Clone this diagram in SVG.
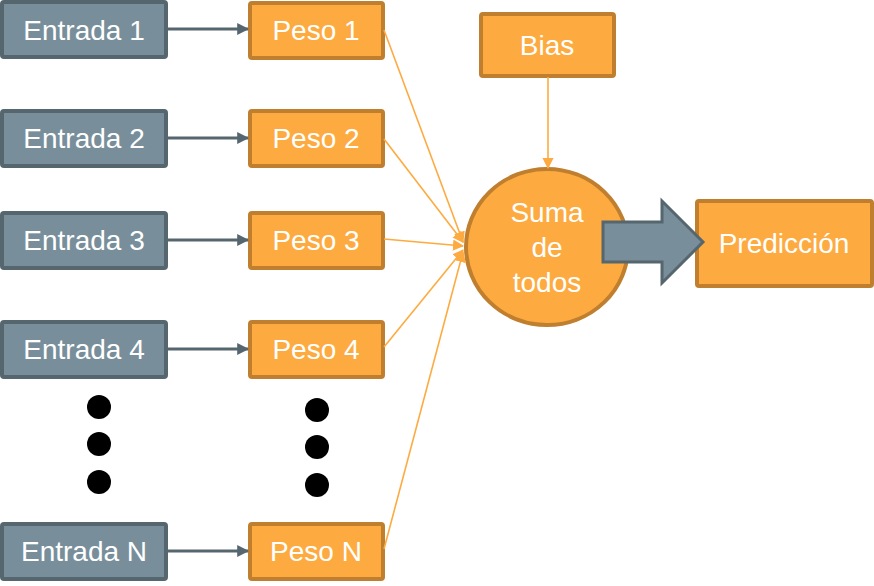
<svg xmlns="http://www.w3.org/2000/svg" width="874" height="586" viewBox="0 0 874 586">
<style>
.in rect{fill:#788f9b;stroke:#56666f;stroke-width:4}
.w rect,.w ellipse{fill:#fdab40;stroke:#c07f2e;stroke-width:4}
text{font-family:"Liberation Sans",Arial,sans-serif;font-size:28px;fill:#fff;text-anchor:middle}
.g{stroke:#56666f;stroke-width:3;fill:none}
.o{stroke:#fdab40;stroke-width:1.6;fill:none}
</style>
<defs>
<marker id="ga" viewBox="0 0 10 10" refX="9" refY="5" markerWidth="4" markerHeight="4" orient="auto" markerUnits="strokeWidth"><path d="M0,0L10,5L0,10z" fill="#56666f"/></marker>
<marker id="oa" viewBox="0 0 10 10" refX="9" refY="5" markerWidth="7" markerHeight="7" orient="auto" markerUnits="strokeWidth"><path d="M0,0L10,5L0,10z" fill="#fdab40"/></marker>
</defs>
<g id="entrada1" class="in"><rect x="2" y="2" width="164" height="55" rx="2"/><text x="84" y="40">Entrada 1</text></g>
<g id="entrada2" class="in"><rect x="2" y="111" width="164" height="55" rx="2"/><text x="84" y="148">Entrada 2</text></g>
<g id="entrada3" class="in"><rect x="2" y="213" width="164" height="55" rx="2"/><text x="84" y="250">Entrada 3</text></g>
<g id="entrada4" class="in"><rect x="2" y="322" width="164" height="55" rx="2"/><text x="84" y="359">Entrada 4</text></g>
<g id="entradaN" class="in"><rect x="2" y="524" width="164" height="55" rx="2"/><text x="84" y="561">Entrada N</text></g>
<g id="peso1" class="w"><rect x="250" y="3" width="133" height="55" rx="2"/><text x="316" y="40">Peso 1</text></g>
<g id="peso2" class="w"><rect x="250" y="111" width="133" height="55" rx="2"/><text x="316" y="148">Peso 2</text></g>
<g id="peso3" class="w"><rect x="250" y="213" width="133" height="55" rx="2"/><text x="316" y="250">Peso 3</text></g>
<g id="peso4" class="w"><rect x="250" y="322" width="133" height="55" rx="2"/><text x="316" y="359">Peso 4</text></g>
<g id="pesoN" class="w"><rect x="250" y="524" width="133" height="55" rx="2"/><text x="316" y="561">Peso N</text></g>
<g id="bias" class="w"><rect x="481" y="14" width="133" height="62" rx="2"/><text x="547" y="55">Bias</text></g>
<g id="suma" class="w"><ellipse cx="547" cy="247" rx="81" ry="78"/><text x="547" y="222">Suma</text><text x="547" y="257">de</text><text x="547" y="292">todos</text></g>
<g id="prediccion" class="w"><rect x="697" y="201" width="175" height="85" rx="2"/><text x="784" y="253">Predicción</text></g>
<g id="dots" fill="#000">
<circle cx="99" cy="407" r="12"/><circle cx="99" cy="444" r="12"/><circle cx="99" cy="482" r="12"/>
<circle cx="317" cy="410" r="12"/><circle cx="317" cy="447" r="12"/><circle cx="317" cy="485" r="12"/>
</g>
<g id="connectors">
<line class="g" x1="167" y1="29" x2="248" y2="29" marker-end="url(#ga)"/>
<line class="g" x1="167" y1="138" x2="248" y2="138" marker-end="url(#ga)"/>
<line class="g" x1="167" y1="240" x2="248" y2="240" marker-end="url(#ga)"/>
<line class="g" x1="167" y1="349" x2="248" y2="349" marker-end="url(#ga)"/>
<line class="g" x1="167" y1="551" x2="248" y2="551" marker-end="url(#ga)"/>
<line class="o" x1="384" y1="30" x2="463" y2="242" marker-end="url(#oa)"/>
<line class="o" x1="384" y1="139" x2="463" y2="242" marker-end="url(#oa)"/>
<line class="o" x1="384" y1="239" x2="463" y2="246" marker-end="url(#oa)"/>
<line class="o" x1="384" y1="347" x2="463" y2="250" marker-end="url(#oa)"/>
<line class="o" x1="384" y1="549" x2="463" y2="252" marker-end="url(#oa)"/>
<line class="o" x1="548" y1="77" x2="548" y2="168" marker-end="url(#oa)"/>
<path d="M603,222H662V201L703,242L662,283V262H603Z" fill="#788f9b" stroke="#56666f" stroke-width="3" stroke-linejoin="miter"/>
</g>
</svg>
